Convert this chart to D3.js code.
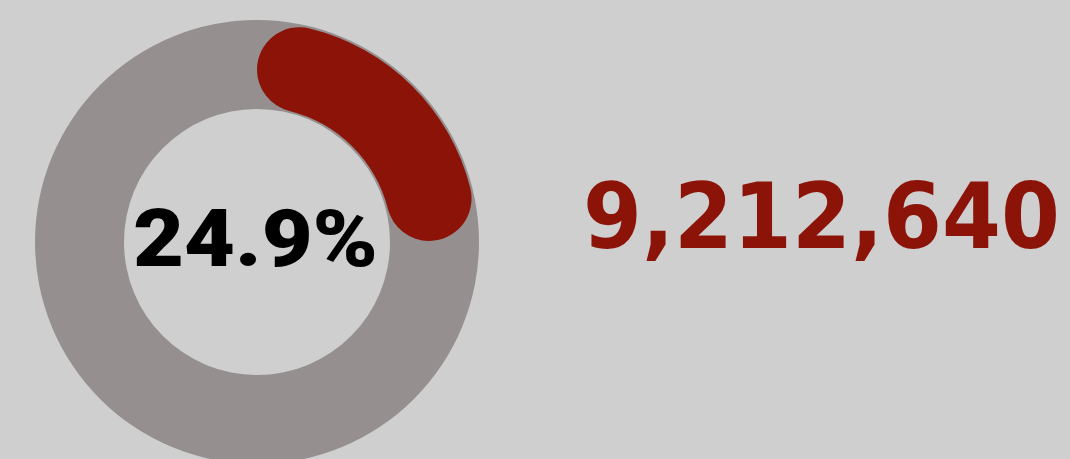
<!DOCTYPE html>
<html>
<head>
<meta charset="utf-8">
<script src="https://cdn.jsdelivr.net/npm/d3@7"></script>
<style>
  html, body { margin: 0; padding: 0; background: #cfcfcf; }
  svg { display: block; }
</style>
</head>
<body>
<div id="chart"></div>
<script>
// values
var shareValues = [0.249];
var totalValues = [9212640];
var labels = ["24.9%", "9,212,640"];

var W = 1070, H = 459;
var svg = d3.select("#chart").append("svg").attr("width", W).attr("height", H);
svg.append("rect").attr("width", W).attr("height", H).attr("fill", "#cfcfcf");

var cx = 257, cy = 242;
var angle = d3.scaleLinear().domain([0, 1]).range([0, 2 * Math.PI]);

var g = svg.append("g").attr("transform", "translate(" + cx + "," + cy + ")");

// background ring
var ring = d3.arc().innerRadius(133).outerRadius(222).startAngle(0).endAngle(2 * Math.PI);
g.append("path").attr("d", ring()).attr("fill", "#958f8f");

// value arc with round ends
var valArc = d3.arc().innerRadius(135).outerRadius(220).cornerRadius(42.5);
g.selectAll("path.val").data(shareValues).enter().append("path")
    .attr("class", "val")
    .attr("d", function (d) { return valArc({ startAngle: angle(0), endAngle: angle(d) }); })
    .attr("fill", "#8b1308");

// squeeze a text horizontally so it spans w pixels from x
function fitText(sel, x, y, w) {
    var natural = sel.node().getComputedTextLength();
    var k = w / natural;
    sel.attr("transform", "translate(" + x + "," + y + ") scale(" + k + ",1)");
}

// centre label
var pct = svg.append("text")
    .style("font-family", "Roboto, 'DejaVu Sans', sans-serif")
    .style("font-weight", 900).style("font-size", "79px")
    .attr("fill", "#000")
    .text(labels[0]);
fitText(pct, 133, 266, 245);

// total
var fmt = d3.format(",");
var tot = svg.selectAll("text.total").data(totalValues).enter().append("text")
    .attr("class", "total")
    .style("font-family", "'DejaVu Sans', sans-serif")
    .style("font-weight", 700).style("font-size", "90px")
    .attr("fill", "#8b1308")
    .text(function (d) { return fmt(d); });
fitText(tot, 583, 248, 477);
</script>
</body>
</html>
